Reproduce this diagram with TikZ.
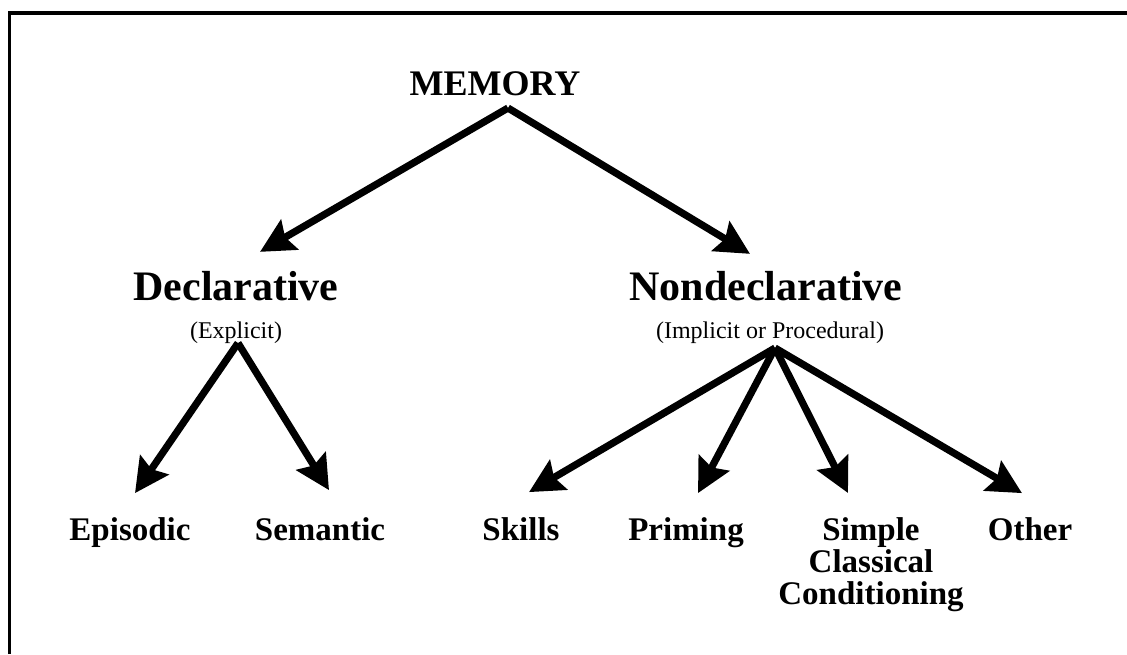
\documentclass[tikz,border=0pt]{standalone}
\usepackage{fontspec}
\setmainfont{Liberation Serif}
\usetikzlibrary{arrows.meta}
\begin{document}
\begin{tikzpicture}[x=0.5pt,y=-0.5pt,inner sep=0pt,outer sep=0pt,line width=3.6pt,
>={Stealth[length=17pt,width=17pt,inset=2.5pt]},
toplabel/.style={font=\fontsize{18}{20}\selectfont\bfseries,anchor=base},
kindlabel/.style={font=\fontsize{21}{24}\selectfont\bfseries,anchor=base},
aside/.style={font=\fontsize{12}{14}\selectfont,anchor=base},
leaf/.style={font=\fontsize{16.5}{16}\selectfont\bfseries,anchor=base,align=center}]

\useasboundingbox (0,0) rectangle (1127,654);
\draw[line width=1.5pt] (9,654) -- (9,13);
\draw[line width=2pt] (8,13) -- (1127,13);

\draw (495,95) node[toplabel] (mem) {MEMORY};
\draw (236,300) node[kindlabel] (decl) {Declarative};
\draw (236,338) node[aside] (expl) {(Explicit)};
\draw (766,300) node[kindlabel] (nondecl) {Nondeclarative};
\draw (770,338) node[aside] (impl) {(Implicit or Procedural)};
\draw (130,540) node[leaf] (epis) {Episodic};
\draw (320,540) node[leaf] (sem) {Semantic};
\draw (521,540) node[leaf] (skills) {Skills};
\draw (686,540) node[leaf] (prim) {Priming};
\draw (871,518) node[leaf,anchor=north] (cond) {Simple\\Classical\\Conditioning};
\draw (1030,540) node[leaf] (other) {Other};

\coordinate (memfork) at (508,108);
\coordinate (declfork) at (238,343);
\coordinate (nondeclfork) at (775,348);

\draw[->] (memfork) -- ([shift={(24,-19)}]decl.north);
\draw[->] (memfork) -- ([shift={(-16,-17)}]nondecl.north);
\draw[->] (declfork) -- ([shift={(5,-24)}]epis.north);
\draw[->] (declfork) -- ([shift={(9,-27)}]sem.north);
\draw[->] (nondeclfork) -- ([shift={(8,-25)}]skills.north);
\draw[->] (nondeclfork) -- ([shift={(12,-24)}]prim.north);
\draw[->] (nondeclfork) -- ([shift={(-23,-25)}]cond.north);
\draw[->] (nondeclfork) -- ([shift={(-8,-24)}]other.north);
\end{tikzpicture}
\end{document}
